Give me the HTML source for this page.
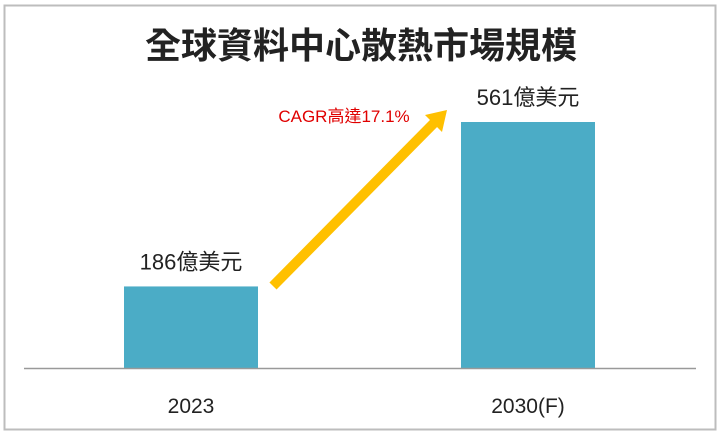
<!DOCTYPE html>
<html><head><meta charset="utf-8"><style>
html,body{margin:0;padding:0;background:#fff;}
svg{display:block;font-family:"Liberation Sans","Noto Sans CJK TC",sans-serif;}
</style></head><body>
<svg width="720" height="435" viewBox="0 0 720 435">
<rect x="4.5" y="5.5" width="711" height="424" fill="#fff" stroke="#bdbdbd" stroke-width="2"/>
<text x="361" y="58" text-anchor="middle" font-size="36" font-weight="bold" fill="#222">全球資料中心散熱市場規模</text>
<g id="bars"></g>
<line x1="24" y1="368.5" x2="696" y2="368.5" stroke="#999" stroke-width="1.5"/>
<g>
<line x1="273" y1="286" x2="436" y2="121" stroke="#FFC000" stroke-width="10"/>
<polygon points="447,110 425,115 442,132" fill="#FFC000"/>
</g>
<text x="344" y="122" text-anchor="middle" font-size="17" fill="#e00000">CAGR高達17.1%</text>
</svg>
<script>
const categories = ["2023", "2030(F)"];
const values = [186, 561];
const valueLabels = ["186億美元", "561億美元"];
const baseY = 368, scale = 246 / 561;
const xLeft = [124, 461], barW = 134;
const g = document.getElementById('bars');
const ns = 'http://www.w3.org/2000/svg';
values.forEach((v, i) => {
  const h = v * scale;
  const r = document.createElementNS(ns, 'rect');
  r.setAttribute('x', xLeft[i]); r.setAttribute('y', baseY - h);
  r.setAttribute('width', barW); r.setAttribute('height', h);
  r.setAttribute('fill', '#4BACC6');
  
  
  g.appendChild(r);
  const t = document.createElementNS(ns, 'text');
  t.setAttribute('x', xLeft[i] + barW / 2); t.setAttribute('y', baseY - h - 17);
  t.setAttribute('text-anchor', 'middle'); t.setAttribute('font-size', '22'); t.setAttribute('fill', '#222');
  t.textContent = valueLabels[i];
  
  
  g.appendChild(t);
  const c = document.createElementNS(ns, 'text');
  c.setAttribute('x', xLeft[i] + barW / 2); c.setAttribute('y', 413);
  c.setAttribute('text-anchor', 'middle'); c.setAttribute('font-size', '21'); c.setAttribute('fill', '#222');
  c.textContent = categories[i];
  
  
  g.appendChild(c);
});
</script>
</body></html>
